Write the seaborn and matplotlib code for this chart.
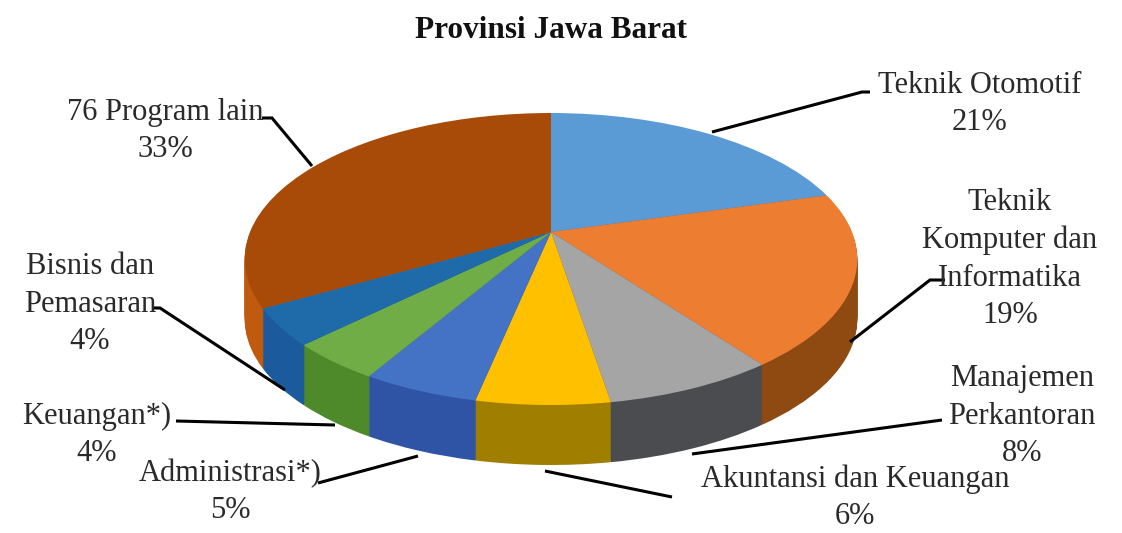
import matplotlib
matplotlib.use("Agg")
import numpy as np
import matplotlib.pyplot as plt
from matplotlib.transforms import Transform, Affine2D
import seaborn as sns

title = "Provinsi Jawa Barat"
names = ["Teknik\u00a0Otomotif", "Teknik\nKomputer dan\nInformatika", "Manajemen\nPerkantoran",
         "Akuntansi dan Keuangan", "Administrasi*)", "Keuangan*)",
         "Bisnis dan\nPemasaran", "76 Program lain"]
shares = [20.6, 19.2, 7.6, 5.9, 5.2, 4.2, 4.1, 33.2]
top_colors = ["#5B9BD5", "#ED7D31", "#A5A5A5", "#FFC000", "#4472C4", "#70AD47", "#1F6AA8", "#A84A08"]
side_colors = ["#3A6D9E", "#8F4A12", "#4A4C50", "#A07E00", "#2F54A6", "#4F8A2A", "#1B5A9C", "#BF5A0E"]

sns.set_theme(style="white")
plt.rcParams["font.family"] = ["Liberation Serif", "DejaVu Serif"]

label_pos = [(980, 104), (1010, 259), (1022, 416), (855, 498), (230, 492), (97, 435), (90, 304), (165, 131)]
leaders = [
    [(712, 132), (862, 92), (870, 92)],
    [(850, 342), (930, 280), (945, 280)],
    [(692, 454), (942, 420)],
    [(545, 471), (672, 497)],
    [(318, 483), (418, 456)],
    [(176, 421), (335, 425)],
    [(285, 390), (160, 308), (152, 308)],
    [(312, 166), (272, 118), (262, 118)],
]

CX, CY, RX, RY, K, DEPTH = 551, 232, 301, 141, 0.185, 60


class Perspective(Transform):
    input_dims = output_dims = 2
    has_inverse = False

    def transform_non_affine(self, values):
        v = np.asarray(values, dtype=float)
        w = 1 + K * v[:, 1]
        return np.column_stack([CX + RX * v[:, 0] / w, CY - RY * v[:, 1] / w])


fig = plt.figure(figsize=(11.22, 5.33), dpi=100, facecolor="white")
ax = fig.add_axes([0, 0, 1, 1])


def layer(colors, drop):
    wedges, _ = ax.pie(shares, colors=colors, startangle=90, counterclock=False, radius=1,
                       wedgeprops=dict(linewidth=0, antialiased=True))
    tr = Perspective() + Affine2D().translate(0, drop) + ax.transData
    for w in wedges:
        w.set_transform(tr)
        w.set_clip_on(False)


for d in np.arange(DEPTH, 0, -1.0):
    layer(sns.color_palette(side_colors), d)
layer(sns.color_palette(top_colors), 0)

ax.set_aspect("auto")
ax.set_xlim(0, 1122)
ax.set_ylim(533, 0)
ax.axis("off")

for name, share, (x, y) in zip(names, shares, label_pos):
    ax.text(x, y, f"{name}\n{share:.0f}%", ha="center", va="center", fontsize=22,
            color="#2a2a2a", linespacing=1.38)
for pts in leaders:
    xs, ys = zip(*pts)
    ax.plot(xs, ys, color="black", lw=2.2, solid_capstyle="butt", solid_joinstyle="miter")

ax.text(551, 31, title, ha="center", va="center", fontsize=22.5, fontweight="bold", color="#111111")

fig.savefig("out.png", dpi=100, facecolor="white")
